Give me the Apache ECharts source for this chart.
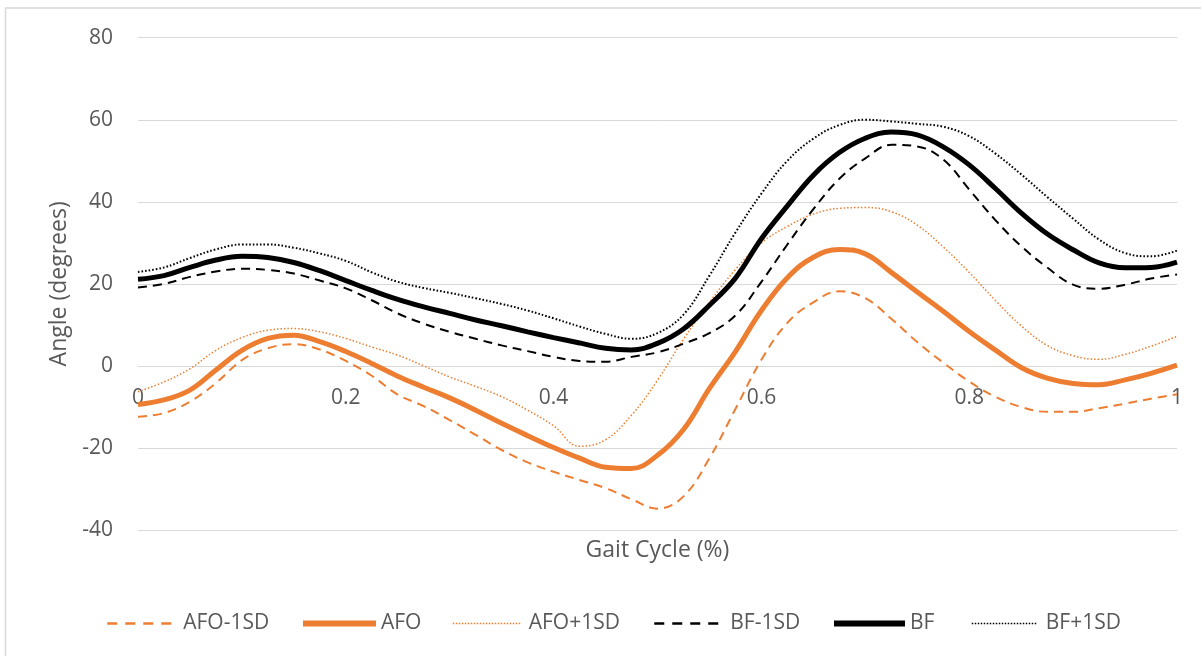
<!DOCTYPE html>
<html>
<head>
<meta charset="utf-8">
<title>Gait Cycle Angle</title>
<script src="https://cdn.jsdelivr.net/npm/echarts@6/dist/echarts.min.js"></script>
<style>
  html, body { margin: 0; padding: 0; background: #ffffff; }
  #chart { width: 1201px; height: 656px; }
</style>
</head>
<body>
<div id="chart"></div>
<script>
// Sample positions along the gait cycle (fraction of cycle)
const gaitCycle = [0, 0.025, 0.05, 0.075, 0.1, 0.125, 0.15, 0.175, 0.2, 0.225,
  0.25, 0.275, 0.3, 0.325, 0.35, 0.375, 0.4, 0.425, 0.45, 0.475,
  0.5, 0.525, 0.55, 0.575, 0.6, 0.625, 0.65, 0.675, 0.7, 0.725,
  0.75, 0.775, 0.8, 0.825, 0.85, 0.875, 0.9, 0.925, 0.95, 0.975, 1];

// Joint angle (degrees) for each condition
const afoMinus1SD = [-12.4, -11.5, -8.7, -4.2, 1.4, 4.3, 5.3, 4.0, 1.2, -2.4,
  -7.0, -9.8, -13.2, -16.8, -20.5, -23.5, -25.8, -27.8, -29.8, -32.5,
  -34.8, -31.8, -22.5, -10.5, 1.5, 10.5, 15.5, 18.2, 16.5, 11.5,
  5.8, 0.8, -3.8, -7.5, -10.0, -11.2, -11.2, -10.3, -9.2, -8.0, -6.9];
const afo = [-9.4, -8.3, -5.9, -1.0, 3.8, 6.7, 7.5, 5.9, 3.5, 0.6,
  -2.5, -5.2, -7.8, -10.8, -14.0, -17.0, -19.9, -22.5, -24.7, -25.0,
  -21.8, -15.5, -5.5, 3.5, 13.5, 21.5, 26.5, 28.4, 27.3, 22.8,
  18.0, 13.3, 8.4, 3.9, -0.4, -3.0, -4.3, -4.6, -3.4, -1.8, 0.2];
const afoPlus1SD = [-6.3, -3.9, -0.7, 3.8, 6.9, 8.7, 9.1, 8.3, 6.7, 4.6,
  2.6, 0.0, -2.7, -5.0, -7.5, -10.8, -14.6, -19.6, -18.0, -12.0,
  -3.5, 6.5, 15.5, 23.5, 30.0, 34.0, 37.0, 38.4, 38.6, 37.6,
  34.3, 29.0, 22.8, 16.0, 9.8, 5.0, 2.5, 1.6, 2.8, 4.8, 7.2];
const bfMinus1SD = [19.1, 20.0, 21.7, 23.0, 23.7, 23.4, 22.5, 20.8, 18.9, 16.0,
  12.8, 10.3, 8.3, 6.6, 5.0, 3.6, 2.2, 1.2, 1.0, 2.2,
  3.3, 5.4, 8.0, 12.3, 20.5, 29.6, 38.2, 45.6, 50.6, 53.9,
  53.5, 50.3, 43.0, 35.6, 29.2, 24.0, 19.8, 18.8, 19.8, 21.3, 22.3];
const bf = [21.1, 22.0, 24.0, 25.8, 26.7, 26.4, 25.2, 23.2, 20.8, 18.4,
  16.2, 14.4, 12.8, 11.2, 9.8, 8.3, 6.9, 5.6, 4.3, 3.9,
  5.5, 9.0, 14.8, 21.4, 31.0, 39.0, 46.5, 52.0, 55.5, 57.0,
  56.3, 53.4, 49.0, 43.3, 37.3, 32.2, 28.3, 25.1, 23.9, 24.0, 25.3];
const bfPlus1SD = [22.9, 24.0, 26.3, 28.4, 29.6, 29.6, 28.8, 27.4, 25.6, 22.8,
  20.5, 19.0, 17.8, 16.5, 15.1, 13.5, 11.6, 9.6, 7.8, 6.6,
  8.0, 12.5, 22.0, 32.5, 42.0, 50.0, 55.4, 58.7, 60.0, 59.6,
  59.0, 58.3, 56.0, 51.8, 46.7, 41.2, 35.9, 30.8, 27.5, 26.7, 28.1];

const seriesNames = ['AFO-1SD', 'AFO', 'AFO+1SD', 'BF-1SD', 'BF', 'BF+1SD'];
const seriesValues = [afoMinus1SD, afo, afoPlus1SD, bfMinus1SD, bf, bfPlus1SD];

const ORANGE = '#ED7D31';
const BLACK = '#000000';
const TEXT = '#595959';
const GRID = '#D9D9D9';
const FONT = '"Open Sans", "Noto Sans", sans-serif';

// Plot frame and value range
const Y_MIN = -40, Y_MAX = 80;
const GRID_TOP = 37.7, GRID_BOTTOM = 126, CHART_H = 656;

// Line look for each series: colour, width, dash pattern
const styles = [
  { color: ORANGE, width: 2, type: [9, 6] },
  { color: ORANGE, width: 5, type: 'solid' },
  { color: ORANGE, width: 1.5, type: [1.5, 2] },
  { color: BLACK, width: 2, type: [9, 6] },
  { color: BLACK, width: 5, type: 'solid' },
  { color: BLACK, width: 2, type: [1.6, 2] }
];

// Legend entries laid out one per legend component
const legendLayout = [
  { left: 106, w: 64, pad: 7, line: { width: 2.5, type: [10, 8] } },
  { left: 300, w: 73, pad: 0, line: { width: 6, type: 'solid' } },
  { left: 452, w: 69, pad: 2, line: { width: 1.5, type: [1.5, 1.5] } },
  { left: 653, w: 64, pad: 7, line: { width: 2.5, type: [10, 8] } },
  { left: 831, w: 71, pad: 0, line: { width: 6, type: 'solid' } },
  { left: 971, w: 66, pad: 3, line: { width: 1.5, type: [1.5, 1.5] } }
];

const series = seriesNames.map((name, i) => ({
  name: name,
  type: 'line',
  showSymbol: false,
  symbol: 'none',
  smooth: 0.4,
  lineStyle: {
    color: styles[i].color,
    width: styles[i].width,
    type: styles[i].type,
    cap: 'butt'
  },
  itemStyle: { color: styles[i].color },
  data: gaitCycle.map((x, k) => [x, seriesValues[i][k]])
}));

const legends = seriesNames.map((name, i) => ({
  show: true,
  data: [name],
  left: legendLayout[i].left,
  top: 613,
  padding: 0,
  itemWidth: legendLayout[i].w,
  itemHeight: 14,
  lineStyle: Object.assign({ color: styles[i].color }, legendLayout[i].line),
  itemStyle: { color: 'rgba(0,0,0,0)', borderWidth: 0, opacity: 0 },
  selectedMode: false,
  textStyle: {
    color: TEXT,
    fontFamily: FONT,
    fontSize: 21,
    padding: [0, 0, 0, legendLayout[i].pad]
  }
}));

// Category labels sit on the zero line: shift the x axis up from the plot bottom
const plotH = CHART_H - GRID_TOP - GRID_BOTTOM;
const zeroShift = plotH * (0 - Y_MIN) / (Y_MAX - Y_MIN);

const chart = echarts.init(document.getElementById('chart'), null, { renderer: 'canvas' });
chart.setOption({
  animation: false,
  backgroundColor: '#ffffff',
  graphic: [{
    type: 'rect',
    shape: { x: 5.5, y: 8, width: 1220, height: 680 },
    style: { fill: 'none', stroke: GRID, lineWidth: 1.5 },
    silent: true,
    z: -10
  }],
  grid: { left: 138, right: 24, top: GRID_TOP, bottom: GRID_BOTTOM, containLabel: false, outerBoundsMode: 'none' },
  legend: legends,
  xAxis: {
    type: 'value',
    min: 0,
    max: 1,
    interval: 0.2,
    offset: -zeroShift,
    name: 'Gait Cycle (%)',
    nameLocation: 'middle',
    nameGap: 173,
    nameTextStyle: { color: TEXT, fontFamily: FONT, fontSize: 23 },
    axisLine: { show: true, onZero: false, lineStyle: { color: GRID, width: 1 } },
    axisTick: { show: false },
    splitLine: { show: false },
    axisLabel: { color: TEXT, fontFamily: FONT, fontSize: 21, margin: 22 }
  },
  yAxis: {
    type: 'value',
    min: Y_MIN,
    max: Y_MAX,
    interval: 20,
    name: 'Angle (degrees)',
    nameLocation: 'middle',
    nameRotate: 90,
    nameGap: 67,
    nameTextStyle: { color: TEXT, fontFamily: FONT, fontSize: 23 },
    axisLine: { show: false },
    axisTick: { show: false },
    splitLine: { show: true, lineStyle: { color: GRID, width: 1 } },
    axisLabel: { color: TEXT, fontFamily: FONT, fontSize: 21, margin: 25 }
  },
  series: series
});
</script>
</body>
</html>
